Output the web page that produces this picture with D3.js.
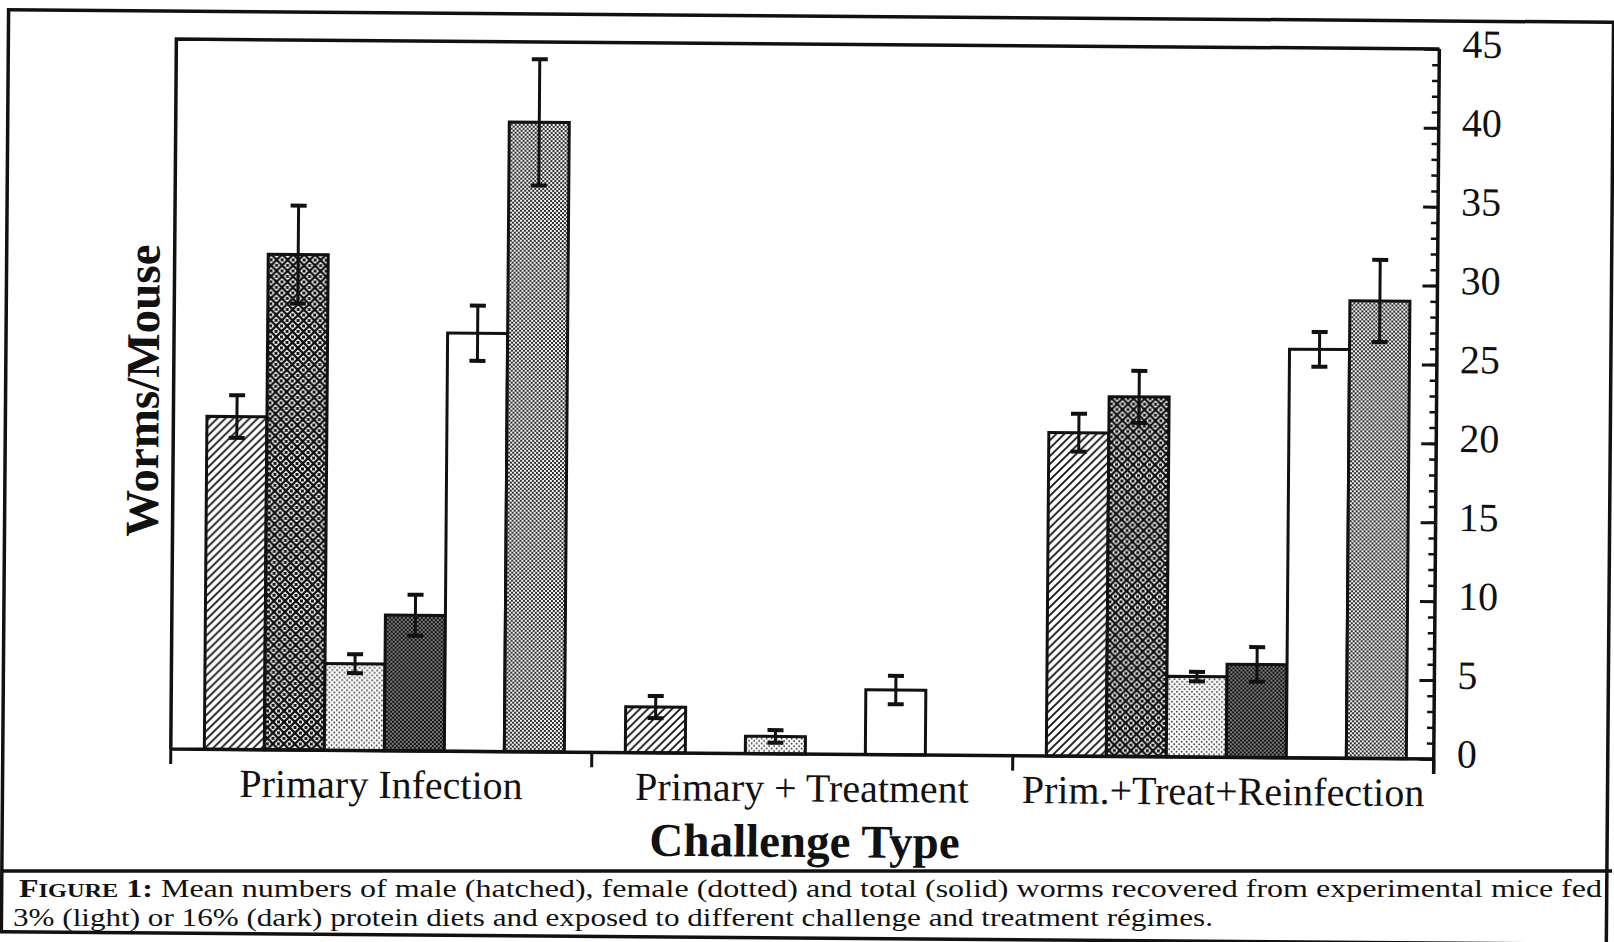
<!DOCTYPE html>
<html>
<head>
  <meta charset="UTF-8" />
  <title>Worms/Mouse by challenge type</title>
  <style>
    body { margin: 0; background: #fff; }
    svg { display: block; font-family: "Liberation Serif", "DejaVu Serif", serif; }
  </style>
</head>
<body>
  <div id="chart"></div>
  <script src="https://d3js.org/d3.v7.min.js"></script>
  <script>
    // data (mean worms per mouse, +/- error)
    const categories = ["Primary Infection", "Primary + Treatment", "Prim.+Treat+Reinfection"];
    const series = ["male3", "male16", "female3", "female16", "total3", "total16"];

    const male3 = [21.1, 2.9, 20.5];
    const male3Err = [1.35, 0.7, 1.2];
    const male16 = [31.4, null, 22.8];
    const male16Err = [3.1, null, 1.65];
    const female3 = [5.5, 1.1, 5.1];
    const female3Err = [0.6, 0.4, 0.3];
    const female16 = [8.6, null, 5.9];
    const female16Err = [1.3, null, 1.1];
    const total3 = [26.5, 4.1, 25.9];
    const total3Err = [1.75, 0.9, 1.1];
    const total16 = [39.9, null, 29.0];
    const total16Err = [4.0, null, 2.6];

    const yTicks = [0, 5, 10, 15, 20, 25, 30, 35, 40, 45];

    const caption1 = " Mean numbers of male (hatched), female (dotted) and total (solid) worms recovered from experimental mice fed";
    const caption2 = "3% (light) or 16% (dark) protein diets and exposed to different challenge and treatment régimes.";

    const values = { male3, male16, female3, female16, total3, total16 };
    const errors = { male3: male3Err, male16: male16Err, female3: female3Err, female16: female16Err, total3: total3Err, total16: total16Err };

    const rows = [];
    categories.forEach((c, i) => {
      series.forEach(s => {
        if (values[s][i] != null) rows.push({ cat: c, key: s, v: values[s][i], e: errors[s][i] });
      });
    });

    const svg = d3.select("#chart").append("svg")
      .attr("width", 1614)
      .attr("height", 942);

    // patterns for the bar fills
    const defs = svg.append("defs");

    const pat = (id, size, bg) => {
      const p = defs.append("pattern").attr("id", id)
        .attr("patternUnits", "userSpaceOnUse")
        .attr("width", size).attr("height", size);
      p.append("rect").attr("width", size).attr("height", size).attr("fill", bg);
      return p;
    };

    pat("male3", 8, "#fff").append("path")
      .attr("d", "M-2,2L2,-2M0,8L8,0M6,10L10,6")
      .attr("stroke", "#111").attr("stroke-width", 1.8);

    const m16 = pat("male16", 11, "#fff");
    m16.append("path").attr("d", "M0,0L11,11M11,0L0,11")
      .attr("stroke", "#111").attr("stroke-width", 2.4);
    [[5.5, 0], [0, 5.5], [11, 5.5], [5.5, 11]].forEach(([cx, cy]) => {
      m16.append("rect").attr("x", cx - 1.5).attr("y", cy - 1.5)
        .attr("width", 3).attr("height", 3).attr("fill", "#111");
    });

    const f3 = pat("female3", 5, "#fff");
    [[1.25, 1.25], [3.75, 3.75]].forEach(([cx, cy]) => {
      f3.append("circle").attr("cx", cx).attr("cy", cy).attr("r", 0.9).attr("fill", "#333");
    });

    const f16 = pat("female16", 4, "#111");
    [[1, 1], [3, 3]].forEach(([cx, cy]) => {
      f16.append("circle").attr("cx", cx).attr("cy", cy).attr("r", 0.8).attr("fill", "#fff");
    });

    const t16 = pat("total16", 4, "#222");
    [[1, 1], [3, 3]].forEach(([cx, cy]) => {
      t16.append("circle").attr("cx", cx).attr("cy", cy).attr("r", 1.15).attr("fill", "#fff");
    });

    const fills = { male3: "url(#male3)", male16: "url(#male16)", female3: "url(#female3)", female16: "url(#female16)", total3: "#fff", total16: "url(#total16)" };

    // the scanned page is slightly tilted
    const g = svg.append("g").attr("transform", "rotate(0.45, 807, 471)");

    const x0 = d3.scaleBand().domain(categories).range([173, 1436]).padding(0);
    const x1 = d3.scaleBand().domain(series).range([0, x0.bandwidth()])
      .paddingInner(0).paddingOuter(0.508).align(0.55);
    const y = d3.scaleLinear().domain([0, 45]).range([754, 44]);

    const left = x0.range()[0], right = x0.range()[1];

    // outer frame
    g.append("rect").attr("x", 5).attr("y", 16).attr("width", 1605).attr("height", 922)
      .attr("fill", "none").attr("stroke", "#111").attr("stroke-width", 3.5);

    // bars
    g.selectAll("rect.bar")
      .data(rows)
      .join("rect")
      .attr("class", "bar")
      .attr("x", d => x0(d.cat) + x1(d.key))
      .attr("y", d => y(d.v))
      .attr("width", x1.bandwidth())
      .attr("height", d => y(0) - y(d.v))
      .attr("fill", d => fills[d.key])
      .attr("stroke", "#111")
      .attr("stroke-width", 3);

    // error bars
    const eb = g.selectAll("g.err").data(rows).join("g").attr("class", "err")
      .attr("transform", d => `translate(${x0(d.cat) + x1(d.key) + x1.bandwidth() / 2},0)`);
    eb.append("line")
      .attr("y1", d => y(d.v + d.e)).attr("y2", d => y(d.v - d.e))
      .attr("stroke", "#111").attr("stroke-width", 3);
    eb.append("line")
      .attr("x1", -8).attr("x2", 8)
      .attr("y1", d => y(d.v + d.e)).attr("y2", d => y(d.v + d.e))
      .attr("stroke", "#111").attr("stroke-width", 4);
    eb.append("line")
      .attr("x1", -8).attr("x2", 8)
      .attr("y1", d => y(d.v - d.e)).attr("y2", d => y(d.v - d.e))
      .attr("stroke", "#111").attr("stroke-width", 4);

    // plot frame: left, top, baseline
    g.append("path")
      .attr("d", `M${left},${y(0)}V${y(45)}H${right}M${left},${y(0)}H${right}`)
      .attr("fill", "none").attr("stroke", "#111").attr("stroke-width", 3.5);

    // category separators below the baseline
    g.selectAll("line.sep")
      .data(categories.map(c => x0(c)).concat([right]))
      .join("line").attr("class", "sep")
      .attr("x1", d => d).attr("x2", d => d)
      .attr("y1", y(0)).attr("y2", y(0) + 15)
      .attr("stroke", "#111").attr("stroke-width", 3);

    // category labels
    const xAxis = g.append("g")
      .attr("transform", `translate(0,${y(0)})`)
      .call(d3.axisBottom(x0).tickSize(0).tickPadding(19));
    xAxis.select(".domain").remove();
    xAxis.selectAll("text")
      .attr("font-family", "Liberation Serif")
      .attr("font-size", 40)
      .attr("fill", "#111");

    // right value axis, ticks pointing inward
    const yAxisMinor = g.append("g")
      .attr("transform", `translate(${right},0)`)
      .call(d3.axisRight(y).tickValues(d3.range(0, 46)).tickSize(-7).tickFormat(""));
    yAxisMinor.select(".domain").remove();
    yAxisMinor.selectAll("line").attr("stroke", "#111").attr("stroke-width", 2.5);

    const yAxis = g.append("g")
      .attr("transform", `translate(${right},0)`)
      .call(d3.axisRight(y).tickValues(yTicks).tickSize(-15).tickPadding(23));
    yAxis.select(".domain").remove();
    yAxis.selectAll("line").attr("stroke", "#111").attr("stroke-width", 3);
    yAxis.selectAll("text")
      .attr("font-family", "Liberation Serif")
      .attr("font-size", 40)
      .attr("dy", "0.2em")
      .attr("fill", "#111");

    g.append("line")
      .attr("x1", right).attr("x2", right)
      .attr("y1", y(45)).attr("y2", y(0) + 15)
      .attr("stroke", "#111").attr("stroke-width", 3.5);

    // axis titles
    g.append("text")
      .attr("x", (left + right) / 2 + 3).attr("y", 857)
      .attr("text-anchor", "middle")
      .attr("font-weight", "bold").attr("font-size", 47).attr("fill", "#111")
      .text("Challenge Type");

    g.append("text")
      .attr("transform", "translate(158,396) rotate(-90)")
      .attr("text-anchor", "middle")
      .attr("font-weight", "bold").attr("font-size", 47).attr("fill", "#111")
      .text("Worms/Mouse");

    // caption box (kept level, outside the tilted group)
    svg.append("line").attr("x1", 3).attr("x2", 1612).attr("y1", 871).attr("y2", 871)
      .attr("stroke", "#111").attr("stroke-width", 3.5);

    const c1 = svg.append("text")
      .attr("x", 19).attr("y", 897)
      .attr("font-size", 25).attr("fill", "#111")
      .attr("textLength", 1583).attr("lengthAdjust", "spacingAndGlyphs");
    c1.append("tspan").attr("font-weight", "bold").text("F");
    c1.append("tspan").attr("font-weight", "bold").attr("font-size", 19).text("IGURE");
    c1.append("tspan").attr("font-weight", "bold").text(" 1:");
    c1.append("tspan").text(caption1);

    svg.append("text")
      .attr("x", 13).attr("y", 926)
      .attr("font-size", 25).attr("fill", "#111")
      .attr("textLength", 1200).attr("lengthAdjust", "spacingAndGlyphs")
      .text(caption2);
  </script>
</body>
</html>
